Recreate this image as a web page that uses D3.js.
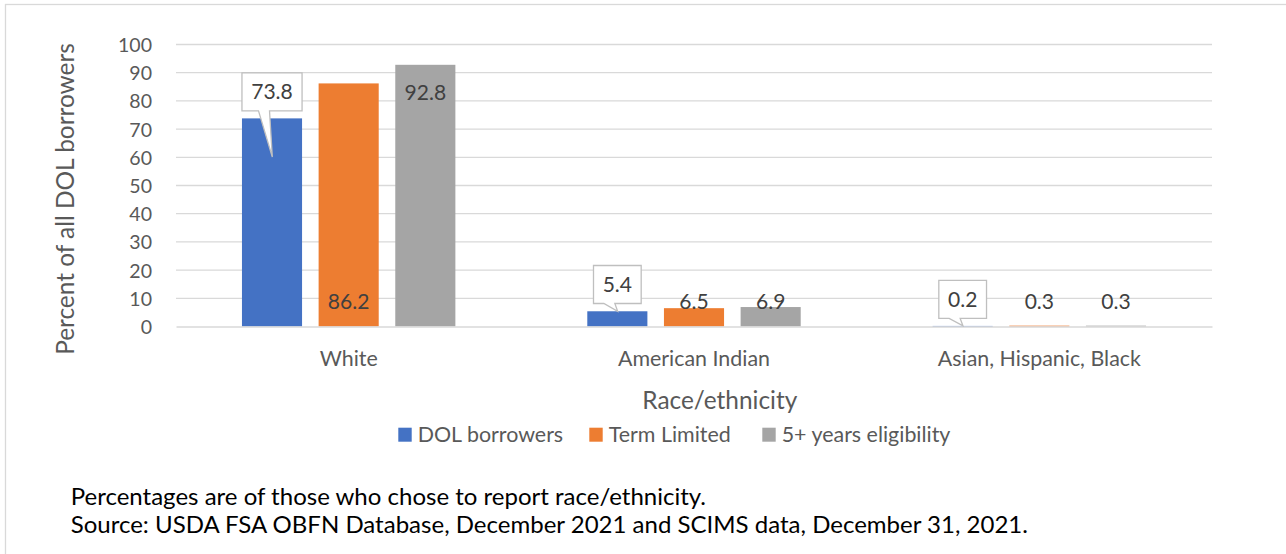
<!DOCTYPE html>
<html>
<head>
<meta charset="utf-8">
<script src="https://cdn.jsdelivr.net/npm/d3@7"></script>
<style>
  html, body { margin: 0; padding: 0; background: #fff; }
  svg { display: block; }
</style>
</head>
<body>
<svg id="chart" width="1286" height="554"></svg>
<script>
// ---- Data ----
const categories = ["White", "American Indian", "Asian, Hispanic, Black"];
const seriesNames = ["DOL borrowers", "Term Limited", "5+ years eligibility"];
const dolBorrowers = [73.8, 5.4, 0.2];
const termLimited = [86.2, 6.5, 0.3];
const fiveYearEligibility = [92.8, 6.9, 0.3];
const yTickValues = [0, 10, 20, 30, 40, 50, 60, 70, 80, 90, 100];
const xAxisTitle = "Race/ethnicity";
const yAxisTitle = "Percent of all DOL borrowers";
const footnotes = [
  "Percentages are of those who chose to report race/ethnicity.",
  "Source: USDA FSA OBFN Database, December 2021 and SCIMS data, December 31, 2021."
];

const seriesValues = [dolBorrowers, termLimited, fiveYearEligibility];
const colors = ["#4472C4", "#ED7D31", "#A5A5A5"];

// Label placement (in value units on the y scale) – layout, not data
const labelPlacement = [
  [{kind: "callout", at: 83.2, tip: 60.1}, {kind: "text", at: 8.8}, {kind: "text", at: 82.9}],
  [{kind: "callout", at: 14.9, tip: null}, {kind: "text", at: 8.8}, {kind: "text", at: 8.8}],
  [{kind: "callout", at: 9.6, tip: null}, {kind: "text", at: 8.8}, {kind: "text", at: 8.8}]
];

const FONT = "Lato, 'Open Sans', sans-serif";
const svg = d3.select("#chart");

function fitSize(text, target) {
  const t = svg.append("text").attr("font-family", FONT).attr("font-size", 100).text(text);
  const w = t.node().getComputedTextLength();
  t.remove();
  return 100 * target / w;
}

const tickSize = fitSize("100", 34);
const labelSize = fitSize("73.8", 41.6);
const legendSize = fitSize("DOL borrowers", 145.6);
const titleSize = fitSize("Race/ethnicity", 155);
const footSize = fitSize(footnotes[1], 957.6);
const CAP = 0.7165;

// Outer border
svg.append("rect")
  .attr("x", 5.5).attr("y", 4.5)
  .attr("width", 1300).attr("height", 600)
  .attr("fill", "none").attr("stroke", "#D9D9D9").attr("stroke-width", 1.3);

// Scales
const plotLeft = 176, plotRight = 1212, plotTop = 44.5, plotBottom = 326.5;
const y = d3.scaleLinear().domain([0, 100]).range([plotBottom, plotTop]);
const x0 = d3.scaleBand().domain(categories).range([plotLeft, plotRight]).padding(0);
const groupW = x0.bandwidth() * 0.618;
const x1 = d3.scaleBand().domain(d3.range(seriesNames.length)).range([0, groupW]).paddingInner(0.216).paddingOuter(0);
const groupOffset = (x0.bandwidth() - groupW) / 2;

// Gridlines (excluding baseline)
svg.append("g").selectAll("line").data(yTickValues.filter(v => v !== 0)).join("line")
  .attr("x1", plotLeft).attr("x2", plotRight)
  .attr("y1", d => y(d)).attr("y2", d => y(d))
  .attr("stroke", "#D9D9D9").attr("stroke-width", 1.3);

// Y axis labels via d3 axis
const yAxis = d3.axisLeft(y).tickValues(yTickValues).tickSize(0).tickPadding(0).tickFormat(d3.format("d"));
const yg = svg.append("g").attr("transform", `translate(152,0)`).call(yAxis);
yg.select(".domain").remove();
yg.selectAll("text")
  .attr("font-family", FONT).attr("font-size", tickSize).attr("fill", "#595959")
  .attr("dy", null).attr("dominant-baseline", "alphabetic")
  .attr("y", tickSize * CAP / 2);

// Bars
const flat = [];
categories.forEach((c, ci) => {
  seriesValues.forEach((vals, si) => flat.push({c, ci, si, v: vals[ci]}));
});
svg.append("g").selectAll("rect").data(flat).join("rect")
  .attr("x", d => x0(d.c) + groupOffset + x1(d.si))
  .attr("y", d => y(d.v))
  .attr("width", x1.bandwidth())
  .attr("height", d => y(0) - y(d.v))
  .attr("fill", d => colors[d.si]);

// Category axis line drawn over the bars
const xAxis = d3.axisBottom(x0).tickSize(0).tickFormat("");
const xg = svg.append("g").attr("transform", `translate(0,${y(0)})`).call(xAxis);
xg.select(".domain").attr("stroke", "#D9D9D9").attr("stroke-width", 1.6);
xg.selectAll(".tick").remove();

// Data labels
const lg = svg.append("g");
flat.forEach(d => {
  const p = labelPlacement[d.ci][d.si];
  const cx = x0(d.c) + groupOffset + x1(d.si) + x1.bandwidth() / 2;
  const cy = y(p.at);
  const txt = d3.format(".1f")(d.v);
  if (p.kind === "callout") {
    const boxW = d.ci === 0 ? x1.bandwidth() : 47.7;
    const boxH = 38;
    const tipY = p.tip == null ? y(d.v) : y(p.tip);
    const l = cx - boxW / 2, r = cx + boxW / 2, t = cy - boxH / 2, b = cy + boxH / 2;
    const path = `M${l},${t}H${r}V${b}H${cx - 2.5}L${cx + 0.3},${tipY}L${cx - 13.5},${b}H${l}Z`;
    lg.append("path").attr("d", path).attr("fill", "#fff").attr("stroke", "#BFBFBF").attr("stroke-width", 1.3);
  }
  lg.append("text")
    .attr("x", cx).attr("y", cy + labelSize * CAP / 2)
    .attr("text-anchor", "middle")
    .attr("font-family", FONT).attr("font-size", labelSize).attr("fill", "#404040")
    .text(txt);
});

// Category labels
svg.append("g").selectAll("text").data(categories).join("text")
  .attr("x", d => x0(d) + x0.bandwidth() / 2)
  .attr("y", 366)
  .attr("text-anchor", "middle")
  .attr("font-family", FONT).attr("font-size", legendSize).attr("fill", "#595959")
  .text(d => d);

// X axis title
svg.append("text")
  .attr("x", 719.8).attr("y", 409.3)
  .attr("text-anchor", "middle")
  .attr("font-family", FONT).attr("font-size", titleSize).attr("fill", "#595959")
  .text(xAxisTitle);

// Y axis title
svg.append("text")
  .attr("transform", "translate(74,199) rotate(-90)")
  .attr("text-anchor", "middle")
  .attr("font-family", FONT).attr("font-size", titleSize).attr("fill", "#595959")
  .text(yAxisTitle);

// Legend
const legendX = [398.3, 589.3, 762.3];
const legend = svg.append("g");
seriesNames.forEach((name, i) => {
  legend.append("rect")
    .attr("x", legendX[i]).attr("y", 427.7).attr("width", 13.4).attr("height", 14)
    .attr("fill", colors[i]);
  legend.append("text")
    .attr("x", legendX[i] + 19.4).attr("y", 442)
    .attr("font-family", FONT).attr("font-size", legendSize).attr("fill", "#595959")
    .text(name);
});

// Footnotes
svg.append("g").selectAll("text").data(footnotes).join("text")
  .attr("x", 70.7)
  .attr("y", (d, i) => 505 + i * 28.3)
  .attr("font-family", FONT).attr("font-size", footSize).attr("fill", "#000")
  .text(d => d);
</script>
</body>
</html>
